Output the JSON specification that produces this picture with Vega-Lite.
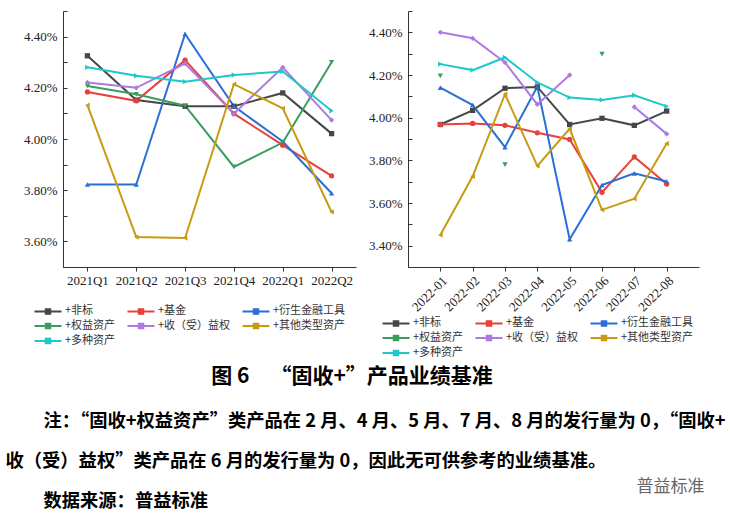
{
  "$schema": "https://vega.github.io/schema/vega-lite/v6.json",
  "padding": {"left": 5, "top": 10, "right": 0, "bottom": 0},
  "background": "#ffffff",
  "config": {
    "view": {"stroke": null},
    "axis": {"grid": false, "domainColor": "#333333", "tickColor": "#333333", "labelColor": "#222222", "labelFont": "Liberation Serif", "labelFontSize": 13, "title": null},
    "legend": {"orient": "none", "direction": "horizontal", "columns": 3, "title": null, "symbolType": "M-2.7,0H2.7M-0.45,-0.45H0.45V0.45H-0.45Z", "symbolSize": 100, "symbolStrokeWidth": 2, "labelFont": "Noto Sans CJK SC", "labelFontSize": 11, "labelColor": "#333333", "labelOffset": 11, "columnPadding": 7, "rowPadding": 1}
  },
  "datasets": {
    "left": [
      {"x": "2021Q1", "s": "+非标", "v": 4.325}, {"x": "2021Q2", "s": "+非标", "v": 4.152}, {"x": "2021Q3", "s": "+非标", "v": 4.128}, {"x": "2021Q4", "s": "+非标", "v": 4.128}, {"x": "2022Q1", "s": "+非标", "v": 4.18}, {"x": "2022Q2", "s": "+非标", "v": 4.021},
      {"x": "2021Q1", "s": "+基金", "v": 4.184}, {"x": "2021Q2", "s": "+基金", "v": 4.149}, {"x": "2021Q3", "s": "+基金", "v": 4.308}, {"x": "2021Q4", "s": "+基金", "v": 4.099}, {"x": "2022Q1", "s": "+基金", "v": 3.976}, {"x": "2022Q2", "s": "+基金", "v": 3.856},
      {"x": "2021Q1", "s": "+衍生金融工具", "v": 3.822}, {"x": "2021Q2", "s": "+衍生金融工具", "v": 3.822}, {"x": "2021Q3", "s": "+衍生金融工具", "v": 4.41}, {"x": "2021Q4", "s": "+衍生金融工具", "v": 4.128}, {"x": "2022Q1", "s": "+衍生金融工具", "v": 3.99}, {"x": "2022Q2", "s": "+衍生金融工具", "v": 3.788},
      {"x": "2021Q1", "s": "+权益资产", "v": 4.207}, {"x": "2021Q2", "s": "+权益资产", "v": 4.175}, {"x": "2021Q3", "s": "+权益资产", "v": 4.13}, {"x": "2021Q4", "s": "+权益资产", "v": 3.891}, {"x": "2022Q1", "s": "+权益资产", "v": 3.986}, {"x": "2022Q2", "s": "+权益资产", "v": 4.3},
      {"x": "2021Q1", "s": "+收（受）益权", "v": 4.221}, {"x": "2021Q2", "s": "+收（受）益权", "v": 4.2}, {"x": "2021Q3", "s": "+收（受）益权", "v": 4.295}, {"x": "2021Q4", "s": "+收（受）益权", "v": 4.099}, {"x": "2022Q1", "s": "+收（受）益权", "v": 4.28}, {"x": "2022Q2", "s": "+收（受）益权", "v": 4.074},
      {"x": "2021Q1", "s": "+其他类型资产", "v": 4.132}, {"x": "2021Q2", "s": "+其他类型资产", "v": 3.617}, {"x": "2021Q3", "s": "+其他类型资产", "v": 3.613}, {"x": "2021Q4", "s": "+其他类型资产", "v": 4.214}, {"x": "2022Q1", "s": "+其他类型资产", "v": 4.12}, {"x": "2022Q2", "s": "+其他类型资产", "v": 3.715},
      {"x": "2021Q1", "s": "+多种资产", "v": 4.28}, {"x": "2021Q2", "s": "+多种资产", "v": 4.247}, {"x": "2021Q3", "s": "+多种资产", "v": 4.224}, {"x": "2021Q4", "s": "+多种资产", "v": 4.25}, {"x": "2022Q1", "s": "+多种资产", "v": 4.264}, {"x": "2022Q2", "s": "+多种资产", "v": 4.11}
    ],
    "right": [
      {"x": "2022-01", "s": "+非标", "v": 3.968}, {"x": "2022-02", "s": "+非标", "v": 4.034}, {"x": "2022-03", "s": "+非标", "v": 4.138}, {"x": "2022-04", "s": "+非标", "v": 4.144}, {"x": "2022-05", "s": "+非标", "v": 3.968}, {"x": "2022-06", "s": "+非标", "v": 3.997}, {"x": "2022-07", "s": "+非标", "v": 3.964}, {"x": "2022-08", "s": "+非标", "v": 4.031},
      {"x": "2022-01", "s": "+基金", "v": 3.968}, {"x": "2022-02", "s": "+基金", "v": 3.973}, {"x": "2022-03", "s": "+基金", "v": 3.964}, {"x": "2022-04", "s": "+基金", "v": 3.929}, {"x": "2022-05", "s": "+基金", "v": 3.898}, {"x": "2022-06", "s": "+基金", "v": 3.65}, {"x": "2022-07", "s": "+基金", "v": 3.816}, {"x": "2022-08", "s": "+基金", "v": 3.689},
      {"x": "2022-01", "s": "+衍生金融工具", "v": 4.141}, {"x": "2022-02", "s": "+衍生金融工具", "v": 4.059}, {"x": "2022-03", "s": "+衍生金融工具", "v": 3.862}, {"x": "2022-04", "s": "+衍生金融工具", "v": 4.146}, {"x": "2022-05", "s": "+衍生金融工具", "v": 3.43}, {"x": "2022-06", "s": "+衍生金融工具", "v": 3.684}, {"x": "2022-07", "s": "+衍生金融工具", "v": 3.739}, {"x": "2022-08", "s": "+衍生金融工具", "v": 3.701},
      {"x": "2022-01", "s": "+权益资产", "v": 4.196}, {"x": "2022-02", "s": "+权益资产", "v": null}, {"x": "2022-03", "s": "+权益资产", "v": 3.78}, {"x": "2022-04", "s": "+权益资产", "v": null}, {"x": "2022-05", "s": "+权益资产", "v": null}, {"x": "2022-06", "s": "+权益资产", "v": 4.298}, {"x": "2022-07", "s": "+权益资产", "v": null}, {"x": "2022-08", "s": "+权益资产", "v": null},
      {"x": "2022-01", "s": "+收（受）益权", "v": 4.4}, {"x": "2022-02", "s": "+收（受）益权", "v": 4.372}, {"x": "2022-03", "s": "+收（受）益权", "v": 4.259}, {"x": "2022-04", "s": "+收（受）益权", "v": 4.062}, {"x": "2022-05", "s": "+收（受）益权", "v": 4.2}, {"x": "2022-06", "s": "+收（受）益权", "v": null}, {"x": "2022-07", "s": "+收（受）益权", "v": 4.05}, {"x": "2022-08", "s": "+收（受）益权", "v": 3.924},
      {"x": "2022-01", "s": "+其他类型资产", "v": 3.45}, {"x": "2022-02", "s": "+其他类型资产", "v": 3.725}, {"x": "2022-03", "s": "+其他类型资产", "v": 4.11}, {"x": "2022-04", "s": "+其他类型资产", "v": 3.774}, {"x": "2022-05", "s": "+其他类型资产", "v": 3.948}, {"x": "2022-06", "s": "+其他类型资产", "v": 3.568}, {"x": "2022-07", "s": "+其他类型资产", "v": 3.62}, {"x": "2022-08", "s": "+其他类型资产", "v": 3.879},
      {"x": "2022-01", "s": "+多种资产", "v": 4.251}, {"x": "2022-02", "s": "+多种资产", "v": 4.223}, {"x": "2022-03", "s": "+多种资产", "v": 4.282}, {"x": "2022-04", "s": "+多种资产", "v": 4.165}, {"x": "2022-05", "s": "+多种资产", "v": 4.094}, {"x": "2022-06", "s": "+多种资产", "v": 4.083}, {"x": "2022-07", "s": "+多种资产", "v": 4.105}, {"x": "2022-08", "s": "+多种资产", "v": 4.053}
    ],
    "notes": [
      {"k": "1", "t": "注：“固收+权益资产”类产品在 2 月、4 月、5 月、7 月、8 月的发行量为 0，“固收+"},
      {"k": "2", "t": "收（受）益权”类产品在 6 月的发行量为 0，因此无可供参考的业绩基准。"},
      {"k": "3", "t": "数据来源：普益标准"}
    ],
    "mark": [
      {"k": "3", "t": "普益标准"}
    ]
  },
  "vconcat": [
    {
      "hconcat": [
        {
          "width": 293,
          "height": 256,
          "data": {"name": "left"},
          "encoding": {
            "x": {"field": "x", "type": "ordinal", "scale": {"type": "point", "padding": 0.5}, "axis": {"labelAngle": 0, "tickSize": 4, "labelPadding": 3}},
            "y": {"field": "v", "type": "quantitative", "scale": {"domain": [3.5, 4.5], "zero": false, "nice": false}, "axis": {"values": [3.5, 3.6, 3.7, 3.8, 3.9, 4.0, 4.1, 4.2, 4.3, 4.4, 4.5], "labelExpr": "abs(datum.value*5-round(datum.value*5))<0.01 ? format(datum.value,'.2f')+'%' : ''", "tickSize": -4, "labelPadding": 10, "minExtent": 58}},
            "color": {"field": "s", "type": "nominal", "scale": {"domain": ["+非标", "+基金", "+衍生金融工具", "+权益资产", "+收（受）益权", "+其他类型资产", "+多种资产"], "range": ["#474747", "#e8403c", "#2b6fd6", "#3a9e5e", "#ad79e3", "#c99b13", "#1ec8c8"]}, "legend": null}
          },
          "layer": [
            {"mark": {"type": "line", "strokeWidth": 2, "invalid": "break-paths-filter-domains"},
             "encoding": {"color": {"field": "s", "type": "nominal", "legend": {"legendX": -21, "legendY": 294}}}},
            {"transform": [{"filter": "datum.s === '+非标'"}], "mark": {"type": "point", "filled": true, "size": 28, "opacity": 1, "shape": "square"}},
            {"transform": [{"filter": "datum.s === '+基金'"}], "mark": {"type": "point", "filled": true, "size": 28, "opacity": 1, "shape": "circle"}},
            {"transform": [{"filter": "datum.s === '+衍生金融工具'"}], "mark": {"type": "point", "filled": true, "size": 28, "opacity": 1, "shape": "triangle-up"}},
            {"transform": [{"filter": "datum.s === '+权益资产'"}], "mark": {"type": "point", "filled": true, "size": 28, "opacity": 1, "shape": "triangle-down"}},
            {"transform": [{"filter": "datum.s === '+收（受）益权'"}], "mark": {"type": "point", "filled": true, "size": 28, "opacity": 1, "shape": "diamond"}},
            {"transform": [{"filter": "datum.s === '+其他类型资产'"}], "mark": {"type": "point", "filled": true, "size": 28, "opacity": 1, "shape": "triangle-left"}},
            {"transform": [{"filter": "datum.s === '+多种资产'"}], "mark": {"type": "point", "filled": true, "size": 28, "opacity": 1, "shape": "triangle-right"}}
          ]
        },
        {
          "width": 291,
          "height": 256,
          "data": {"name": "right"},
          "encoding": {
            "x": {"field": "x", "type": "ordinal", "scale": {"type": "point", "padding": 1}, "axis": {"labelAngle": -45, "tickSize": 4, "labelPadding": 3}},
            "y": {"field": "v", "type": "quantitative", "scale": {"domain": [3.3, 4.5], "zero": false, "nice": false}, "axis": {"values": [3.3, 3.4, 3.5, 3.6, 3.7, 3.8, 3.9, 4.0, 4.1, 4.2, 4.3, 4.4, 4.5], "labelExpr": "abs(datum.value*5-round(datum.value*5))<0.01 ? format(datum.value,'.2f')+'%' : ''", "tickSize": -4, "labelPadding": 10, "minExtent": 40}},
            "color": {"field": "s", "type": "nominal", "scale": {"domain": ["+非标", "+基金", "+衍生金融工具", "+权益资产", "+收（受）益权", "+其他类型资产", "+多种资产"], "range": ["#474747", "#e8403c", "#2b6fd6", "#3a9e5e", "#ad79e3", "#c99b13", "#1ec8c8"]}, "legend": null}
          },
          "layer": [
            {"mark": {"type": "line", "strokeWidth": 2, "invalid": "break-paths-filter-domains"},
             "encoding": {"color": {"field": "s", "type": "nominal", "legend": {"legendX": -18, "legendY": 306}}}},
            {"transform": [{"filter": "datum.s === '+非标'"}], "mark": {"type": "point", "filled": true, "size": 28, "opacity": 1, "shape": "square"}},
            {"transform": [{"filter": "datum.s === '+基金'"}], "mark": {"type": "point", "filled": true, "size": 28, "opacity": 1, "shape": "circle"}},
            {"transform": [{"filter": "datum.s === '+衍生金融工具'"}], "mark": {"type": "point", "filled": true, "size": 28, "opacity": 1, "shape": "triangle-up"}},
            {"transform": [{"filter": "datum.s === '+权益资产'"}], "mark": {"type": "point", "filled": true, "size": 28, "opacity": 1, "shape": "triangle-down"}},
            {"transform": [{"filter": "datum.s === '+收（受）益权'"}], "mark": {"type": "point", "filled": true, "size": 28, "opacity": 1, "shape": "diamond"}},
            {"transform": [{"filter": "datum.s === '+其他类型资产'"}], "mark": {"type": "point", "filled": true, "size": 28, "opacity": 1, "shape": "triangle-left"}},
            {"transform": [{"filter": "datum.s === '+多种资产'"}], "mark": {"type": "point", "filled": true, "size": 28, "opacity": 1, "shape": "triangle-right"}}
          ]
        }
      ],
      "spacing": 12,
      "resolve": {"scale": {"color": "independent"}, "legend": {"color": "independent"}},
      "title": {"text": "图 6\u2003“固收+”产品业绩基准", "orient": "bottom", "anchor": "middle", "font": "Noto Sans CJK SC", "fontSize": 21, "fontWeight": "bold", "color": "#000000", "offset": 6}
    },
    {
      "width": 1,
      "height": 120,
      "data": {"name": "notes"},
      "encoding": {
        "y": {"field": "k", "type": "ordinal", "axis": null, "scale": {"type": "point", "padding": 0.5, "domain": ["1", "2", "3"]}},
        "text": {"field": "t", "type": "nominal"}
      },
      "layer": [
        {
          "transform": [{"filter": "datum.k !== '2'"}],
          "mark": {"type": "text", "align": "left", "baseline": "middle", "font": "Noto Sans CJK SC", "fontSize": 18.3, "fontWeight": "bold", "color": "#000000", "dx": -20}
        },
        {
          "transform": [{"filter": "datum.k === '2'"}],
          "mark": {"type": "text", "align": "left", "baseline": "middle", "font": "Noto Sans CJK SC", "fontSize": 18.3, "fontWeight": "bold", "color": "#000000", "dx": -58}
        },
        {
          "data": {"name": "mark"},
          "mark": {"type": "text", "align": "left", "baseline": "middle", "font": "Noto Sans CJK SC", "fontSize": 17, "fontWeight": "normal", "color": "#666666", "dx": 573, "dy": -15}
        }
      ]
    }
  ],
  "spacing": 15
}
